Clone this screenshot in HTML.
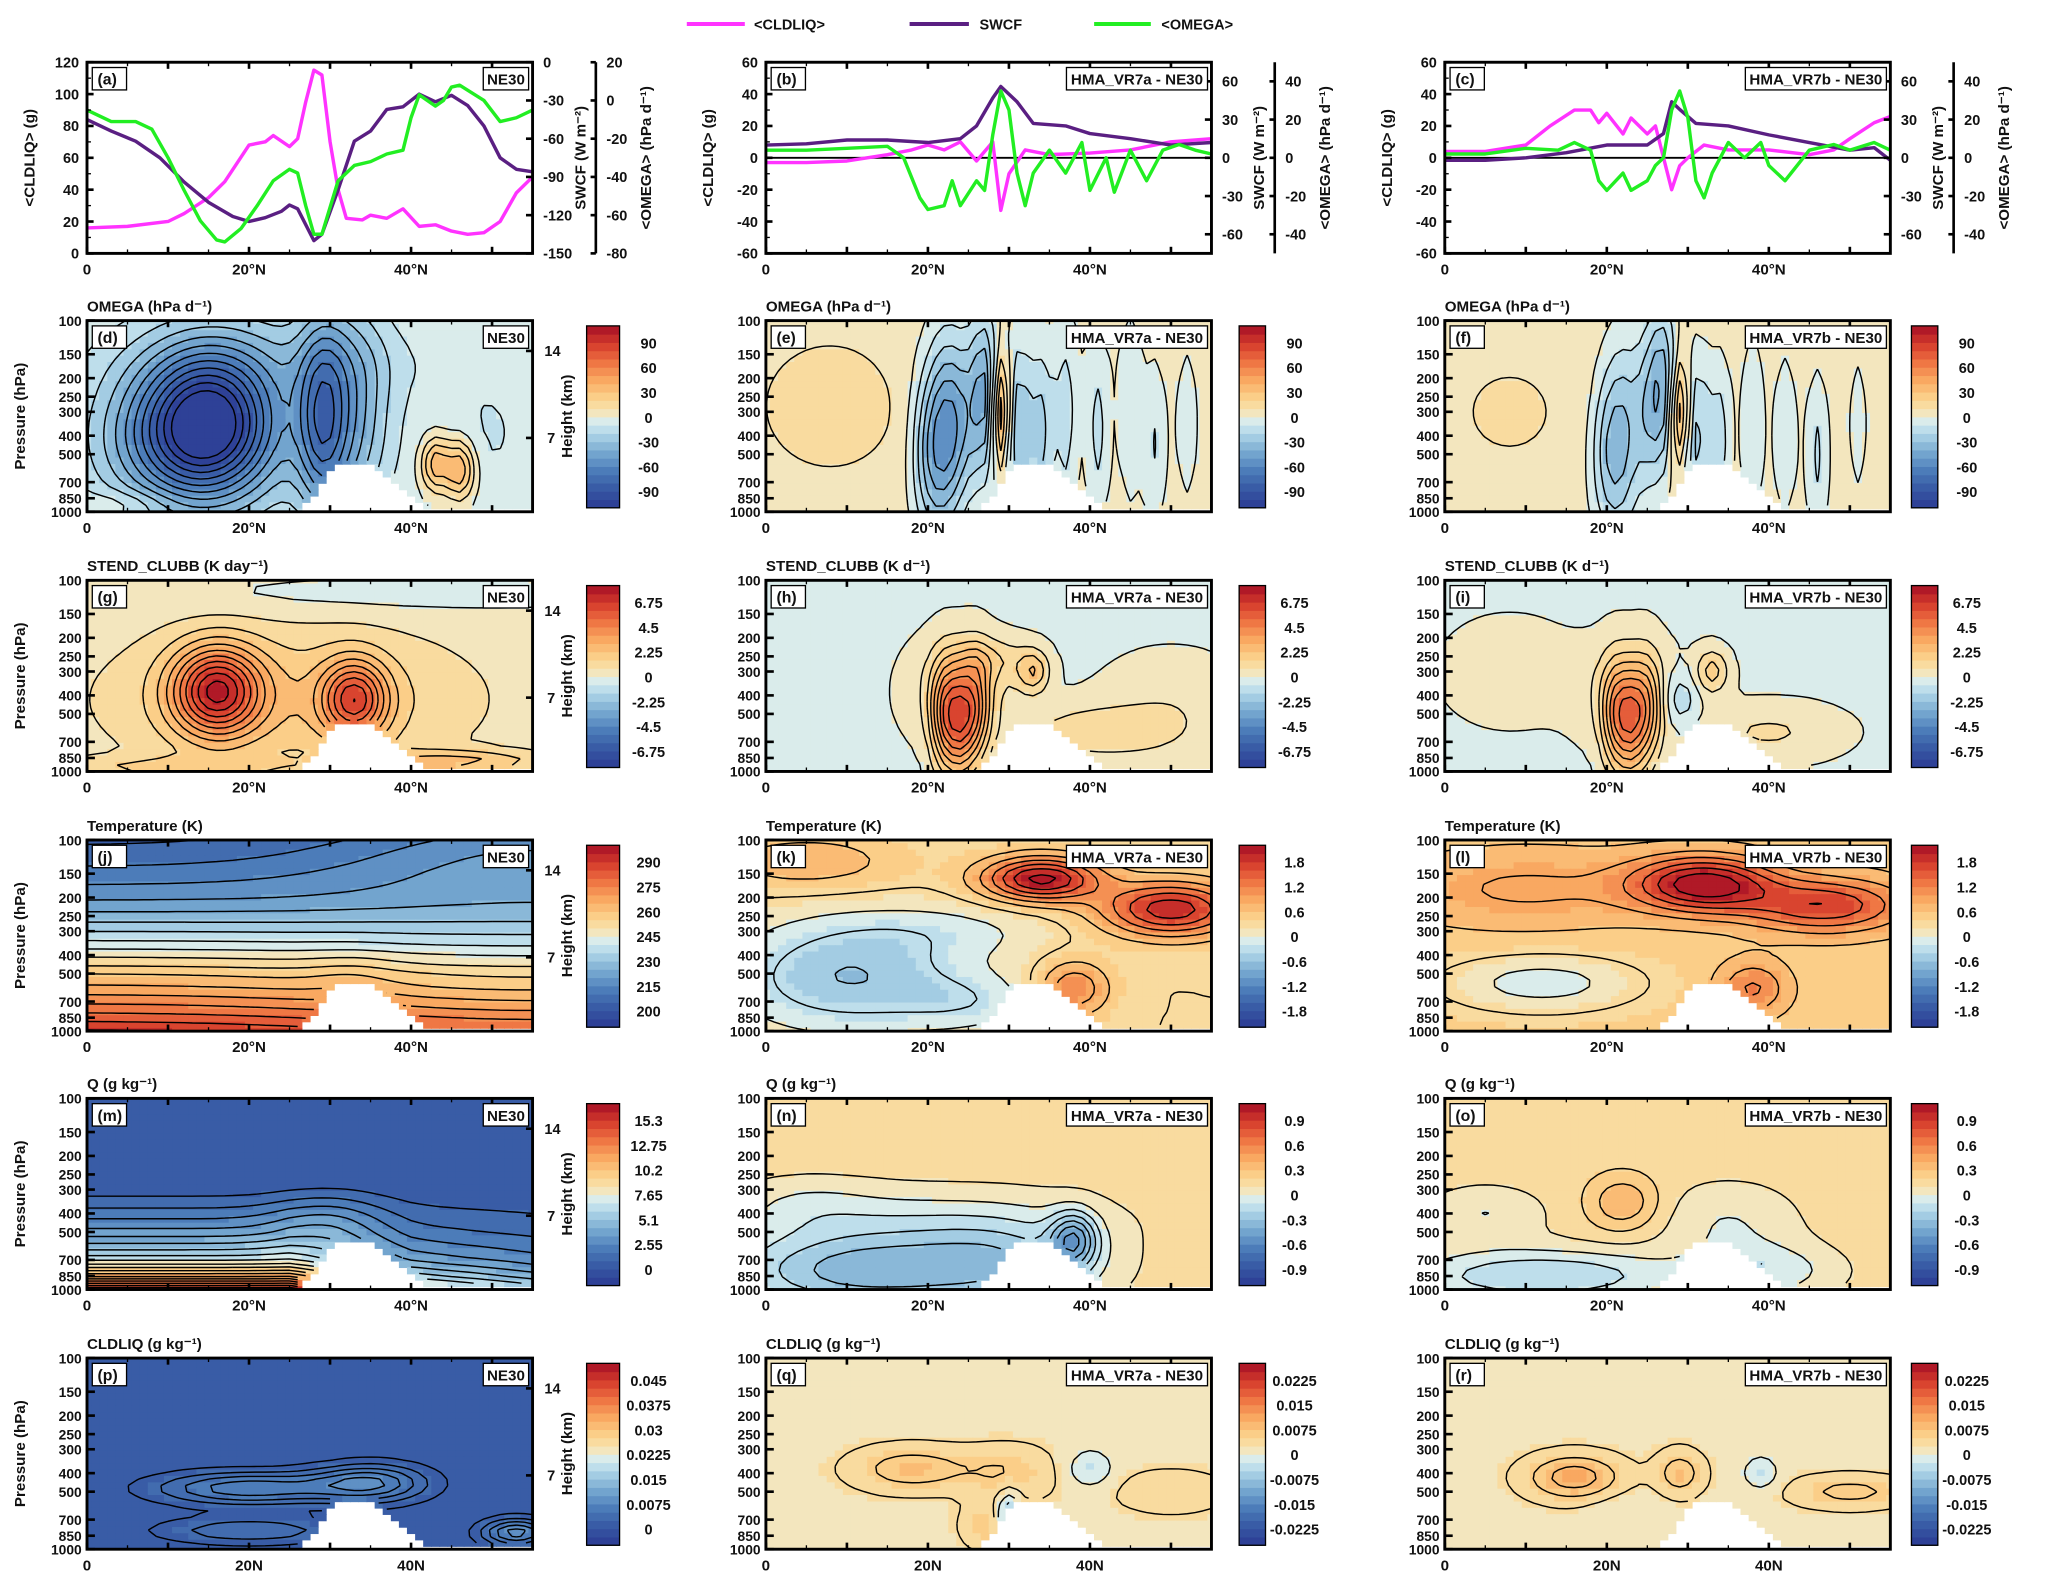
<!DOCTYPE html>
<html><head><meta charset="utf-8"><style>
html,body{margin:0;padding:0;background:#fff}
svg{display:block}
text{font-family:"Liberation Sans",Arial,sans-serif;font-weight:bold;fill:#111}
</style></head><body>
<svg id="fig" width="2067" height="1593" viewBox="0 0 1568 1208" xmlns="http://www.w3.org/2000/svg">
<g>
<line x1="521" y1="18" x2="565" y2="18" stroke="#ff33ff" stroke-width="3"/><text x="572" y="22" font-size="11">&lt;CLDLIQ&gt;</text>
<line x1="690" y1="18" x2="735" y2="18" stroke="#5a1f82" stroke-width="3"/><text x="743" y="22" font-size="11">SWCF</text>
<line x1="830" y1="18" x2="873" y2="18" stroke="#22ee22" stroke-width="3"/><text x="881" y="22" font-size="11">&lt;OMEGA&gt;</text>
</g>
</svg>
<script>
// ---------- line panel data ----------
const latCld_a=[0,5,10,12,15,17,20,22,23,25,26,27,28,29,30,31,32,34,35,37,39,41,43,45,47,49,51,53,55];
const cld_a=[16,17,20,25,35,45,68,70,74,67,72,95,115,112,70,40,22,21,24,22,28,17,18,14,12,13,20,38,48];
const latSw_a=[0,3,6,9,12,15,18,20,22,24,25,26,28,29,31,33,35,37,39,41,43,45,47,49,51,53,55];
const swcf_a=[-45,-54,-62,-75,-94,-110,-121,-125,-122,-117,-112,-115,-140,-135,-100,-62,-54,-37,-35,-25,-31,-26,-34,-50,-75,-84,-86];
const latOm_a=[0,3,6,8,10,12,14,16,17,19,21,23,25,26,27,28,29,31,33,35,37,39,40,41,43,44,45,46,49,51,53,55];
const omega_a=[-5,-11,-11,-15,-30,-47,-63,-73,-74,-67,-55,-42,-36,-38,-55,-70,-70,-42,-34,-32,-28,-26,-9,3,-3,0,7,8,0,-11,-9,-5];

const latCld_b=[0,5,10,15,18,20,22,24,26,28,29,30,32,35,40,45,50,55];
const cld_b=[-3,-3,-2,2,5,8,5,10,-2,10,-33,-10,5,2,3,5,10,12];
const latSw_b=[0,5,10,15,20,24,26,28,29,31,33,37,40,45,50,55];
const swcf_b=[10,11,14,14,12,15,25,47,56,44,27,25,19,15,10,12];
const latOm_b=[0,5,10,15,17,19,20,22,23,24,26,27,28,29,30,31,32,33,35,37,39,40,42,43,45,47,49,51,53,55];
const omega_b=[4,4,5,6,0,-21,-27,-25,-12,-25,-12,-17,12,35,25,-8,-25,-8,4,-8,8,-17,0,-18,4,-12,4,7,4,2];

const latCld_c=[0,5,10,13,16,18,19,20,22,23,25,26,28,29,30,32,35,40,45,48,50,53,55];
const cld_c=[4,4,8,20,30,30,22,28,15,25,15,20,-20,-5,0,8,5,5,2,5,12,22,26];
const latSw_c=[0,5,10,15,20,25,27,28,29,31,35,40,45,50,53,55];
const swcf_c=[-2,-2,0,4,10,10,19,44,38,27,25,18,12,6,8,-2];
const latOm_c=[0,5,10,14,16,18,19,20,22,23,25,26,27,28,29,30,31,32,33,35,37,39,40,42,45,48,50,53,55];
const omega_c=[2,2,5,4,8,4,-12,-17,-8,-17,-12,-4,0,25,35,21,-12,-21,-8,8,0,8,-4,-12,4,7,4,8,4];

// ---------- tick labels ----------
const cldTicks_a=[0,20,40,60,80,100,120];
const swTicks_a=[0,-30,-60,-90,-120,-150];
const omTicks_a=[20,0,-20,-40,-60,-80];
const cldTicks_d=[-60,-40,-20,0,20,40,60];
const swTicks_d=[60,30,0,-30,-60];
const omTicks_d=[40,20,0,-20,-40];
const presTicks=[100,150,200,250,300,400,500,700,850,1000];

// ---------- terrain ----------
const psLat=[0,26,27,28,29,30,31,35,36,37,38,39,40,41,42,55];
const psVal=[1000,1000,920,800,700,620,565,560,590,640,700,780,850,900,930,940];

// ---------- contour field descriptions: [lat, p(hPa), sigmaLat, sigmaLog10p, amp] ----------
const blobs_d=[[15,350,5.5,0.26,-100],[8,450,6,0.25,-25],[18,300,12,0.4,-22],[29,330,2.2,0.35,-55],[33,300,3,0.4,-30],[43,560,1.2,0.1,40],[46,600,1.3,0.11,45],[5,900,4,0.05,10],[50,400,5,0.3,-10],[25,160,16,0.15,-8]];
const blobs_e=[[8,280,5,0.2,14],[20,500,1.5,0.3,-30],[22,400,1.5,0.35,-40],[24,350,1.5,0.3,-30],[27,250,1.3,0.3,-45],[29,300,0.9,0.22,55],[31,400,1.3,0.3,-35],[34,420,1,0.3,-25],[37,350,1,0.35,-18],[41,400,1,0.3,-18],[45,300,1,0.35,-14],[48,450,1,0.3,-16],[52,350,1,0.3,-12],[32,200,8,0.3,-6]];
const blobs_f=[[8,300,5,0.2,6],[20,500,1.5,0.3,-25],[22,400,1.5,0.35,-30],[25,300,1.3,0.3,-25],[27,220,1.3,0.3,-40],[29,300,0.9,0.2,45],[31,400,1.3,0.3,-30],[34,420,1,0.3,-20],[38,350,1,0.35,-15],[42,400,1,0.3,-15],[46,500,1,0.3,-18],[51,350,1,0.3,-10]];
const blobs_g=[[16,380,3.8,0.16,6.2],[33,420,2.8,0.14,5],[25,420,16,0.28,1.8],[45,880,8,0.04,2],[10,950,10,0.04,1.2],[35,120,20,0.08,-0.6]];
const blobs_h=[[22,520,1.2,0.2,3.5],[24,560,1.2,0.2,4],[26,480,1.2,0.2,3],[24,380,4,0.18,1.6],[33,300,1.4,0.08,2.2],[28,260,3,0.08,1.2],[40,620,6,0.1,1.3],[50,500,6,0.2,0.8]];
const blobs_i=[[21,520,1.2,0.2,3],[23,560,1.2,0.2,3.5],[25,480,1.2,0.2,2.5],[23,400,4,0.18,1.4],[33,300,1.4,0.08,2],[29,420,1.5,0.1,-1.5],[40,620,6,0.1,1],[8,300,6,0.2,0.5]];
const blobs_j=[[55,110,18,0.2,14],[55,900,20,0.3,-9],[33,500,4,0.1,3]];
const blobs_k=[[34,160,5,0.08,1.9],[50,230,6,0.1,1.7],[10,520,10,0.2,-0.9],[5,130,8,0.1,0.5],[38,600,3,0.1,0.9],[25,700,6,0.1,-0.4],[22,300,10,0.1,-0.3]];
const blobs_l=[[32,170,6,0.1,1.8],[47,220,7,0.1,1.3],[10,180,12,0.15,0.5],[12,560,8,0.1,-0.6],[38,600,3,0.1,0.8]];
const blobs_m=[[30,450,5,0.12,1.5]];
const blobs_n=[[12,800,12,0.15,-0.5],[30,720,8,0.15,-0.3],[20,420,15,0.12,-0.15],[38,550,2,0.1,-0.5],[5,350,6,0.1,-0.1]];
const blobs_o=[[12,850,12,0.1,-0.35],[22,350,3,0.1,0.25],[35,450,6,0.15,-0.15],[5,400,5,0.1,-0.15],[40,800,6,0.1,-0.2]];
const blobs_p=[[20,480,8,0.06,0.007],[35,450,5,0.07,0.007],[53,820,3,0.05,0.008],[20,800,8,0.05,0.004]];
const blobs_q=[[18,380,5,0.08,0.006],[30,400,4,0.1,0.004],[40,380,2,0.07,-0.005],[50,500,5,0.08,0.003],[27,760,2,0.08,0.004],[30,700,1,0.1,-0.01],[45,230,5,0.05,-0.002]];
const blobs_r=[[16,420,4,0.08,0.009],[29,400,2,0.08,0.006],[39,400,1.5,0.06,-0.005],[50,500,5,0.06,0.005],[43,250,4,0.05,-0.002],[22,700,3,0.1,-0.002]];
const profP=[100,150,200,250,300,400,500,700,850,1000];
const profT=[204,212,219,227,235,249,260,274,283,291];
const profQ=[0,0,0,0,0.4,2,3.5,7,11,16];
const qFacLat=[0,25,40,55];
const qFac=[1,1,0.55,0.4];

const cbLab_omega=["90","60","30","0","-30","-60","-90"];
const cbLab_stend=["6.75","4.5","2.25","0","-2.25","-4.5","-6.75"];
const cbLab_T=["290","275","260","245","230","215","200"];
const cbLab_dT=["1.8","1.2","0.6","0","-0.6","-1.2","-1.8"];
const cbLab_Q=["15.3","12.75","10.2","7.65","5.1","2.55","0"];
const cbLab_dQ=["0.9","0.6","0.3","0","-0.3","-0.6","-0.9"];
const cbLab_C=["0.045","0.0375","0.03","0.0225","0.015","0.0075","0"];
const cbLab_dC=["0.0225","0.015","0.0075","0","-0.0075","-0.015","-0.0225"];

// ---------- layout ----------
const NS="http://www.w3.org/2000/svg";
const svg=document.getElementById('fig');
const COLX=[66,581,1096], PW=338, PH=145;
const ROWY=[47,243,440,637,833,1030];
const LATMAX=55;
function mk(tag,attrs,parent){const e=document.createElementNS(NS,tag);for(const k in attrs)e.setAttribute(k,attrs[k]);(parent||svg).appendChild(e);return e;}
function txt(s,x,y,size,anchor,parent,rot){const t=mk('text',{x:x,y:y,'font-size':size,'text-anchor':anchor||'start'},parent);if(rot)t.setAttribute('transform','rotate(-90 '+x+' '+y+')');t.textContent=s;return t;}
function interp(xs,ys,x){if(x<=xs[0])return ys[0];for(let i=1;i<xs.length;i++){if(x<=xs[i]){const f=(x-xs[i-1])/(xs[i]-xs[i-1]);return ys[i-1]+f*(ys[i]-ys[i-1]);}}return ys[ys.length-1];}
const xs=(x0)=>lat=>x0+lat/LATMAX*PW;
const stops=[[0,[43,58,148]],[0.1,[54,87,163]],[0.2,[74,122,184]],[0.3,[116,166,207]],[0.4,[170,210,230]],[0.47,[213,236,240]],[0.5,[232,238,221]],[0.53,[246,228,180]],[0.6,[251,211,142]],[0.7,[249,171,98]],[0.8,[239,116,67]],[0.9,[214,60,44]],[1,[165,15,38]]];
function cmap(t){t=Math.max(0,Math.min(0.9999,t));t=(Math.floor(t*22)+0.5)/22;for(let i=1;i<stops.length;i++){if(t<=stops[i][0]){const a=stops[i-1],b=stops[i],f=(t-a[0])/(b[0]-a[0]);return 'rgb('+a[1].map((v,k)=>Math.round(v+f*(b[1][k]-v))).join(',')+')';}}return 'rgb(165,15,38)';}

function xAxis(g,x0,y0,top,labels){
  const X=xs(x0);
  for(let lat=0;lat<=LATMAX;lat+=5){const major=lat%10===0;const L=major?5:3;
    mk('line',{x1:X(lat),y1:y0,x2:X(lat),y2:y0-L,stroke:'#000','stroke-width':major?2:1},g);
    mk('line',{x1:X(lat),y1:top,x2:X(lat),y2:top+L,stroke:'#000','stroke-width':major?2:1},g);}
  [0,20,40].forEach((lat,i)=>{const t=txt(labels[i],X(lat),y0+16,11.5,'middle',g);});
}
function labelBoxes(g,x0,top,letter,tag){
  mk('rect',{x:x0+4,y:top+4,width:letter.length*6+8,height:17,fill:'#fff',stroke:'#000','stroke-width':1},g);
  txt(letter,x0+8,top+17,12,'start',g);
  const w=tag.length*6.6+8;
  mk('rect',{x:x0+PW-w-3,y:top+4,width:w,height:17,fill:'#fff',stroke:'#000','stroke-width':1},g);
  txt(tag,x0+PW-w/2-3,top+17,11.5,'middle',g);
}

// ---------- line panels ----------
const linePanels=[
 {letter:'(a)',tag:'NE30',cl:[latCld_a,cld_a],sw:[latSw_a,swcf_a],om:[latOm_a,omega_a],cr:[0,120],sr:[-150,0],or:[-80,20],ct:cldTicks_a,st:swTicks_a,ot:omTicks_a,zero:false},
 {letter:'(b)',tag:'HMA_VR7a - NE30',cl:[latCld_b,cld_b],sw:[latSw_b,swcf_b],om:[latOm_b,omega_b],cr:[-60,60],sr:[-75,75],or:[-50,50],ct:cldTicks_d,st:swTicks_d,ot:omTicks_d,zero:true},
 {letter:'(c)',tag:'HMA_VR7b - NE30',cl:[latCld_c,cld_c],sw:[latSw_c,swcf_c],om:[latOm_c,omega_c],cr:[-60,60],sr:[-75,75],or:[-50,50],ct:cldTicks_d,st:swTicks_d,ot:omTicks_d,zero:true}];
linePanels.forEach((P,ci)=>{
  const x0=COLX[ci],top=ROWY[0],bot=top+PH;
  const g=mk('g',{});
  
  
  const X=xs(x0);
  const ys=(r)=>v=>bot-(v-r[0])/(r[1]-r[0])*PH;
  const Yc=ys(P.cr),Ys=ys(P.sr),Yo=ys(P.or);
  if(P.zero)mk('line',{x1:x0,x2:x0+PW,y1:Yc(0),y2:Yc(0),stroke:'#000','stroke-width':1.5},g);
  const series=[[P.cl,Yc,'#ff33ff','cldliq-line'],[P.sw,Ys,'#5a1f82','swcf-line'],[P.om,Yo,'#22ee22','omega-line']];
  series.forEach(s=>{
    const pts=s[0][0].map((lat,i)=>X(lat).toFixed(1)+','+s[1](s[0][1][i]).toFixed(1)).join(' ');
    const pl=mk('polyline',{points:pts,fill:'none',stroke:s[2],'stroke-width':2.6,'stroke-linejoin':'round'},g);
    
    
  });
  mk('rect',{x:x0,y:top,width:PW,height:PH,fill:'none',stroke:'#000','stroke-width':2.2},g);
  xAxis(g,x0,bot,top,['0','20°N','40°N']);
  P.ct.forEach(v=>{const y=Yc(v);mk('line',{x1:x0,x2:x0+5,y1:y,y2:y,stroke:'#000','stroke-width':2},g);txt(String(v),x0-6,y+4,11,'end',g);});
  for(let v=P.cr[0]+10;v<P.cr[1];v+=20){const y=Yc(v);mk('line',{x1:x0,x2:x0+3,y1:y,y2:y,stroke:'#000','stroke-width':1},g);}
  P.st.forEach(v=>{const y=Ys(v);mk('line',{x1:x0+PW,x2:x0+PW-5,y1:y,y2:y,stroke:'#000','stroke-width':2},g);txt(String(v),x0+PW+8,y+4,11,'start',g);});
  const ax=x0+PW+48;
  mk('line',{x1:ax,x2:ax,y1:top,y2:bot,stroke:'#000','stroke-width':2},g);
  P.ot.forEach(v=>{const y=Yo(v);mk('line',{x1:ax,x2:ax-4,y1:y,y2:y,stroke:'#000','stroke-width':2},g);txt(String(v),ax+8,y+4,11,'start',g);});
  labelBoxes(g,x0,top,P.letter,P.tag);
  txt('<CLDLIQ> (g)',x0-40,top+PH/2,11.5,'middle',g,true);
  txt('SWCF (W m⁻²)',x0+PW+40,top+PH/2,11.5,'middle',g,true);
  txt('<OMEGA> (hPa d⁻¹)',ax+42,top+PH/2,11.5,'middle',g,true);
});

// ---------- contour panels ----------
const rowDefs=[
 {title:['OMEGA (hPa d⁻¹)','OMEGA (hPa d⁻¹)','OMEGA (hPa d⁻¹)'],blobs:[blobs_d,blobs_e,blobs_f],base:[0,6,6],prof:[null,null,null],labs:[cbLab_omega,cbLab_omega,cbLab_omega],step:[10,10,10],letters:['(d)','(e)','(f)']},
 {title:['STEND_CLUBB (K day⁻¹)','STEND_CLUBB (K d⁻¹)','STEND_CLUBB (K d⁻¹)'],blobs:[blobs_g,blobs_h,blobs_i],base:[0.2,-0.15,-0.15],prof:[null,null,null],labs:[cbLab_stend,cbLab_stend,cbLab_stend],step:[0.75,0.75,0.75],letters:['(g)','(h)','(i)']},
 {title:['Temperature (K)','Temperature (K)','Temperature (K)'],blobs:[blobs_j,blobs_k,blobs_l],base:[0,0.3,0.45],prof:['T',null,null],labs:[cbLab_T,cbLab_dT,cbLab_dT],step:[5,0.3,0.3],letters:['(j)','(k)','(l)']},
 {title:['Q (g kg⁻¹)','Q (g kg⁻¹)','Q (g kg⁻¹)'],blobs:[blobs_m,blobs_n,blobs_o],base:[0,0.15,0.15],prof:['Q',null,null],labs:[cbLab_Q,cbLab_dQ,cbLab_dQ],step:[0.8,0.1,0.1],letters:['(m)','(n)','(o)']},
 {title:['CLDLIQ (g kg⁻¹)','CLDLIQ (g kg⁻¹)','CLDLIQ (g kg⁻¹)'],blobs:[blobs_p,blobs_q,blobs_r],base:[0.0003,0.002,0.002],prof:[null,null,null],labs:[cbLab_C,cbLab_dC,cbLab_dC],step:[0.0015,0.003,0.003],letters:['(p)','(q)','(r)']}];
const NX=56, NY=31;
const CBX=[445,940,1450], CBW=[25,20,20], CBL=[492,982,1492];
rowDefs.forEach((R,ri)=>{
  const top=ROWY[ri+1],bot=top+PH;
  for(let ci=0;ci<3;ci++){
    const x0=COLX[ci];
    const g=mk('g',{});
    
    
    const cid='clip'+ri+'_'+ci;
    const cp=mk('clipPath',{id:cid},g);mk('rect',{x:x0,y:top,width:PW,height:PH},cp);
    const fg=mk('g',{'clip-path':'url(#'+cid+')'},g);
    const labs=R.labs[ci];
    const l0=parseFloat(labs[0]),l6=parseFloat(labs[6]),st=(l0-l6)/6;
    const vmax=l0+0.69*st,vmin=l6-0.69*st;
    const F=[],M=[];
    for(let j=0;j<NY;j++){F.push([]);M.push([]);const u=j/(NY-1);const p=100*Math.pow(10,u);
      for(let i=0;i<NX;i++){const lat=i*LATMAX/(NX-1);
        let v=R.base[ci];
        if(R.prof[ci]==='T')v+=interp(profP,profT,p);
        if(R.prof[ci]==='Q')v+=interp(profP,profQ,p)*interp(qFacLat,qFac,lat);
        R.blobs[ci].forEach(b=>{const du=(u-Math.log10(b[1]/100))/b[3],dl=(lat-b[0])/b[2];v+=b[4]*Math.exp(-0.5*(du*du+dl*dl));});
        F[j].push(v);M[j].push(p>interp(psLat,psVal,lat));}}
    const dx=PW/(NX-1),dy=PH/(NY-1);
    mk('rect',{x:x0,y:top,width:PW,height:PH,fill:'#fff'},fg);
    for(let j=0;j<NY;j++)for(let i=0;i<NX;i++){if(M[j][i])continue;
      const c=mk('rect',{x:(x0+(i-0.5)*dx).toFixed(1),y:(top+(j-0.5)*dy).toFixed(1),width:(dx+0.6).toFixed(1),height:(dy+0.6).toFixed(1),fill:cmap((F[j][i]-vmin)/(vmax-vmin))},fg);
      
      }
    let d='';const stp=R.step[ci];
    for(let L=Math.ceil(vmin/stp)*stp;L<=vmax;L+=stp){
      for(let j=0;j<NY-1;j++)for(let i=0;i<NX-1;i++){
        if(M[j][i]||M[j][i+1]||M[j+1][i]||M[j+1][i+1])continue;
        const a=F[j][i],b=F[j][i+1],c2=F[j+1][i+1],e=F[j+1][i];const pts=[];
        const X0=x0+i*dx,Y0=top+j*dy;
        if((a-L)*(b-L)<0)pts.push([X0+dx*(L-a)/(b-a),Y0]);
        if((b-L)*(c2-L)<0)pts.push([X0+dx,Y0+dy*(L-b)/(c2-b)]);
        if((e-L)*(c2-L)<0)pts.push([X0+dx*(L-e)/(c2-e),Y0+dy]);
        if((a-L)*(e-L)<0)pts.push([X0,Y0+dy*(L-a)/(e-a)]);
        for(let k=0;k+1<pts.length;k+=2)d+='M'+pts[k][0].toFixed(1)+' '+pts[k][1].toFixed(1)+'L'+pts[k+1][0].toFixed(1)+' '+pts[k+1][1].toFixed(1);
      }}
    const cl=mk('path',{d:d,fill:'none',stroke:'#000','stroke-width':1.1},fg);
    
    
    mk('rect',{x:x0,y:top,width:PW,height:PH,fill:'none',stroke:'#000','stroke-width':2.2},g);
    xAxis(g,x0,bot,top,ri===4?['0','20N','40N']:['0','20°N','40°N']);
    presTicks.forEach(p=>{const y=top+Math.log10(p/100)*PH;mk('line',{x1:x0,x2:x0+6,y1:y,y2:y,stroke:'#000','stroke-width':2},g);txt(String(p),x0-4,y+4,10.5,'end',g);});
    labelBoxes(g,x0,top,R.letters[ci],ci===0?'NE30':(ci===1?'HMA_VR7a - NE30':'HMA_VR7b - NE30'));
    txt(R.title[ci],x0,top-7,11.5,'start',g);
    if(ci===0){
      txt('Pressure (hPa)',x0-47,top+PH/2,11.5,'middle',g,true);
      mk('line',{x1:x0+PW,x2:x0+PW-5,y1:top+23,y2:top+23,stroke:'#000','stroke-width':2},g);
      mk('line',{x1:x0+PW,x2:x0+PW-5,y1:top+89,y2:top+89,stroke:'#000','stroke-width':2},g);
      txt('14',x0+PW+9,top+27,11,'start',g);txt('7',x0+PW+11,top+93,11,'start',g);
      txt('Height (km)',x0+PW+30,top+PH/2,11.5,'middle',g,true);
    }
    const cb=mk('g',{},g);
    
    
    const cbT=top+4,cbH=138,NB=22;
    for(let k=0;k<NB;k++){mk('rect',{x:CBX[ci],y:(cbT+cbH-(k+1)*cbH/NB).toFixed(2),width:CBW[ci],height:(cbH/NB+0.4).toFixed(2),fill:cmap((k+0.5)/NB)},cb);}
    mk('rect',{x:CBX[ci],y:cbT,width:CBW[ci],height:cbH,fill:'none',stroke:'#000','stroke-width':1},cb);
    labs.forEach((s,k)=>{const t=txt(s,CBL[ci],top+21+k*18.83,11,'middle',cb);});
  }
});
</script>
</body></html>
